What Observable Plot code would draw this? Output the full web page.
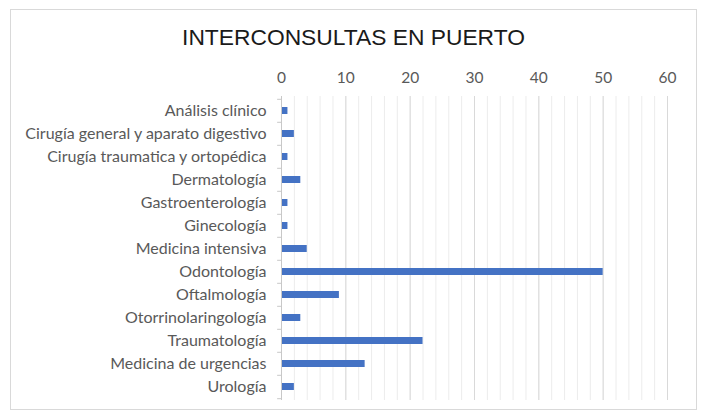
<!DOCTYPE html>
<html>
<head>
<meta charset="utf-8">
<script src="https://cdn.jsdelivr.net/npm/d3@7"></script>
<script src="https://cdn.jsdelivr.net/npm/@observablehq/plot@0.6"></script>
<style>
  html, body { margin: 0; padding: 0; background: #fff; }
  #wrap { position: relative; width: 701px; height: 417px; overflow: hidden; }
  #frame { position: absolute; left: 10px; top: 9px; width: 687px; height: 401px; border: 1px solid #d9d9d9; box-sizing: border-box; }
  #title { position: absolute; left: 0; top: 24px; width: 707px; text-align: center; font-family: "Liberation Sans", Arial, sans-serif; font-size: 22.8px; color: #1a1a1a; }
  #chart { position: absolute; left: 0; top: 55px; }
  #chart svg g[aria-label^="y-axis"] text { font-size: 16px; }
  #chart svg g[aria-label^="x-axis"] text { font-size: 15.5px; }
</style>
</head>
<body>
<div id="wrap">
  <div id="frame"></div>
  <div id="title">INTERCONSULTAS EN PUERTO</div>
  <div id="chart"></div>
</div>
<script>
const categories = [
  "Análisis clínico",
  "Cirugía general y aparato digestivo",
  "Cirugía traumatica y ortopédica",
  "Dermatología",
  "Gastroenterología",
  "Ginecología",
  "Medicina intensiva",
  "Odontología",
  "Oftalmología",
  "Otorrinolaringología",
  "Traumatología",
  "Medicina de urgencias",
  "Urología"
];
const values = [1, 2, 1, 3, 1, 1, 4, 50, 9, 3, 22, 13, 2];
const majorTicks = [0, 10, 20, 30, 40, 50, 60];
const minorTicks = d3.range(0, 61, 2);

const data = categories.map((c, i) => ({cat: c, value: values[i]}));

const H = 360, mT = 41, mB = 15;
const step = (H - mT - mB) / categories.length;

const chart = Plot.plot({
  width: 701,
  height: H,
  marginTop: mT,
  marginBottom: mB,
  marginLeft: 281,
  marginRight: 34,
  style: {fontFamily: "Lato, sans-serif", fontSize: "15px", color: "#595959", background: "transparent"},
  x: {domain: [0, 60], axis: "top", ticks: majorTicks, tickSize: 0, tickPadding: 14, label: null},
  y: {domain: categories, padding: 0, tickSize: 0, tickPadding: 15, label: null},
  marks: [
    Plot.ruleX(minorTicks, {stroke: "#ececec"}),
    Plot.ruleX(majorTicks, {stroke: "#d9d9d9"}),
    Plot.barX(data, {x: "value", y: "cat", fill: "#4472c4", insetTop: 8, insetBottom: 8}),
    Plot.ruleX([0], {stroke: "#c8c8c8"}),
    Plot.ruleY(categories, {y: d => d, x1: () => -0.6, x2: () => 0, dy: -step / 2, stroke: "#c8c8c8"}),
    Plot.ruleY([categories[categories.length - 1]], {y: d => d, x1: () => -0.6, x2: () => 0, dy: step / 2, stroke: "#c8c8c8"})
  ]
});
document.getElementById("chart").appendChild(chart);
</script>
</body>
</html>
